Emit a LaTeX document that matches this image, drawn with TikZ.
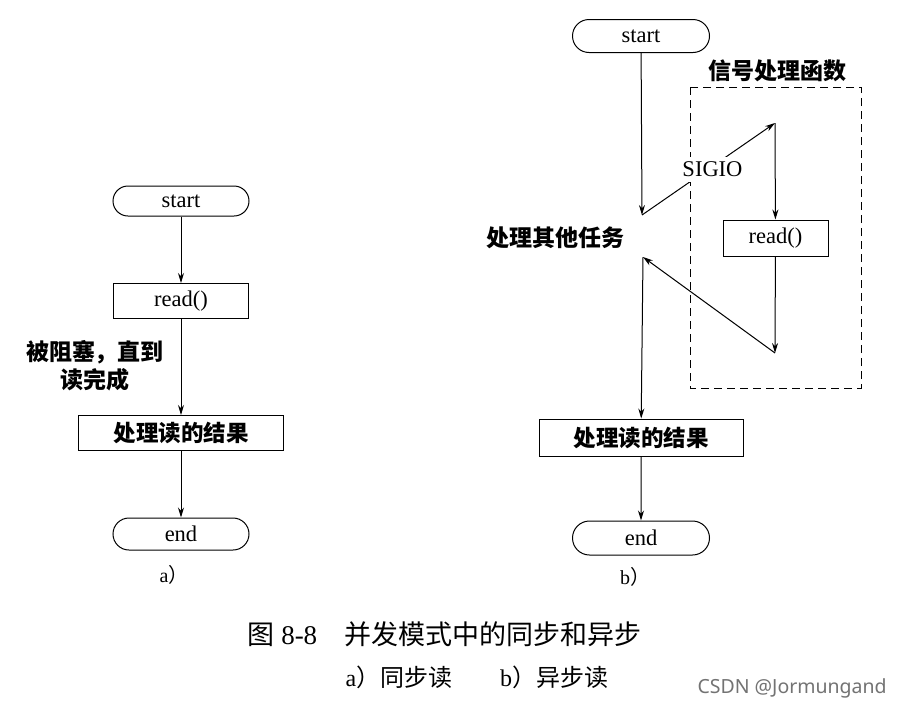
\documentclass[tikz,border=0pt]{standalone}
\usepackage{fontspec}
\setmainfont{Liberation Serif}
\newfontfamily\cjk{Noto Sans CJK SC}
\newfontfamily\wmfont{Noto Sans}
\usetikzlibrary{positioning,shapes.misc,arrows.meta}

\begin{document}
\begin{tikzpicture}[x=1pt,y=1pt,line width=1pt,>={Stealth[length=10pt,width=6pt]}]
    \tikzstyle{every node}=[inner sep=0,node distance=0]
    \tikzstyle{term}=[draw,rounded rectangle,minimum width=136,minimum height=30,font=\fontsize{22.5}{26}\selectfont]
    \tikzstyle{proc}=[draw,rectangle,minimum height=35,font=\fontsize{22.5}{26}\selectfont]
    \tikzstyle{note}=[draw=none,align=center,font=\fontsize{23}{28}\selectfont\cjk\bfseries]
    \tikzstyle{sub}=[draw=none,font=\fontsize{20}{24}\selectfont]
    \fill[white] (0,0) rectangle (900,-710);
    \useasboundingbox (0,0) rectangle (900,-710);
    {
        % a) synchronous read
        \node[term] (starta) at (181,-201) {start};
        \node[proc,minimum width=135,node distance=100] (reada) [below of=starta] {read()};
        \node[proc,minimum width=205,node distance=132] (resulta) [below of=reada] {\cjk\bfseries 处理读的结果};
        \node[term,minimum height=32,node distance=101] (enda) [below of=resulta] {end};
        \node[sub] (laba) at (174,-575) {a{\cjk ）}};
        \node[note] (blocked) at (95,-366) {被阻塞，直到\\读完成};

        \draw[->] (starta) -- (reada);
        \draw[->] (reada) -- (resulta);
        \draw[->] (resulta) -- (enda);
    }
    {
        % b) asynchronous read
        \node[term,minimum width=137,minimum height=33] (startb) at (641,-36) {start};
        \node[proc,minimum width=204,minimum height=37,node distance=401.5] (resultb) [below of=startb] {\cjk\bfseries 处理读的结果};
        \node[term,minimum width=137,minimum height=34,node distance=100.5] (endb) [below of=resultb] {end};
        \node[proc,minimum width=105,minimum height=36] (readb) at (775.5,-238) {read()};
        \node[sub] (labb) at (635,-577) {b{\cjk ）}};
        \node[note] (other) at (555.5,-238) {处理其他任务};
        \node[note] (handler) at (777,-71) {信号处理函数};

        \coordinate (p1) at (642,-215);
        \coordinate (p2) at (775,-123);
        \coordinate (p3) at (775,-353);
        \coordinate (p4) at (643,-257);

        \draw[dashed,dash pattern=on 8pt off 5pt] (690,-87) rectangle (861,-388);

        \draw[->] (startb) -- (p1);
        \draw[->] (p1) -- node[pos=0.53,yshift=-3pt,fill=white,inner sep=5pt,font=\fontsize{22.5}{26}\selectfont] (sigio) {SIGIO} (p2);
        \draw[->] (p2) -- (readb);
        \draw[->] (readb) -- (p3);
        \draw[->] (p3) -- (p4);
        \draw[->] (p4) -- (resultb);
        \draw[->] (resultb) -- (endb);
    }
    {
        % caption
        \node[anchor=west,font=\fontsize{27}{32}\selectfont] (cap1) at (247,-634) {{\cjk 图} 8-8\hspace{27pt}{\cjk 并发模式中的同步和异步}};
        \node[anchor=west,font=\fontsize{24}{28}\selectfont] (cap2) at (345,-677) {a{\cjk ）同步读}\hspace{48pt}b{\cjk ）异步读}};
        \node[anchor=west,font=\fontsize{19.5}{24}\selectfont\wmfont,text=black!55] (mark) at (697,-688) {CSDN @Jormungand};
    }
\end{tikzpicture}
\end{document}
